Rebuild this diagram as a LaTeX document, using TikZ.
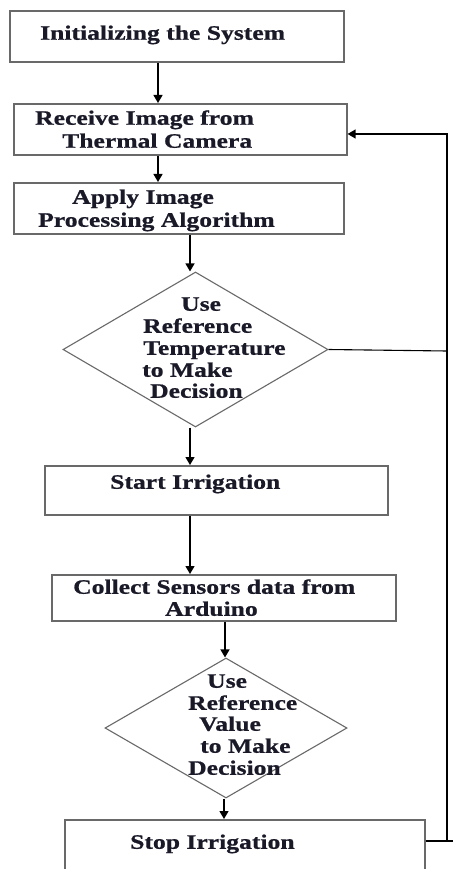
\documentclass[tikz,border=0pt]{standalone}
\usepackage{fontspec}
\setmainfont{Liberation Serif}[FakeStretch=1.25,BoldFeatures={FakeBold=0.8}]
\usetikzlibrary{shapes.geometric,arrows.meta}
\definecolor{boxgray}{RGB}{105,105,105}
\definecolor{txt}{RGB}{25,25,40}
\begin{document}
\begin{tikzpicture}[x=1pt,y=-1pt,
  procbox/.style={draw=boxgray,line width=1.6pt,rectangle,inner sep=0pt,anchor=north west},
  decbox/.style={draw=boxgray,line width=1.1pt,diamond,inner sep=0pt},
  lbl/.style={anchor=west,inner sep=0pt,text=txt,font=\bfseries\fontsize{20.5}{22}\selectfont,text height=13.5pt,text depth=0pt},
  arr/.style={draw=black,line width=1.3pt,-{Triangle[width=9pt,length=8pt]}},
  ln/.style={draw=black,line width=1.1pt}]
\useasboundingbox (0,0) rectangle (453,869);
\clip (0,0) rectangle (453,869);
\fill[white] (0,0) rectangle (453,869);

% shapes
\node[procbox,minimum width=334pt,minimum height=51pt] (b1) at (9,10) {};
\node[procbox,minimum width=333pt,minimum height=51pt] (b2) at (13,103) {};
\node[procbox,minimum width=330pt,minimum height=51pt] (b3) at (13,182) {};
\node[decbox,minimum width=265pt,minimum height=155pt] (d1) at (195.5,349.5) {};
\node[procbox,minimum width=343pt,minimum height=49pt] (b4) at (44,465) {};
\node[procbox,minimum width=344pt,minimum height=46pt] (b5) at (51,574) {};
\node[decbox,minimum width=242pt,minimum height=140pt] (d2) at (226,728) {};
\node[procbox,minimum width=360pt,minimum height=90pt] (b6) at (64,819) {};

% texts
\node[lbl] (t1) at (40,33) {Initializing the System};
\node[lbl] (t2a) at (35,118) {Receive Image from};
\node[lbl] (t2b) at (62,141) {Thermal Camera};
\node[lbl] (t3a) at (72,197) {Apply Image};
\node[lbl] (t3b) at (38,220) {Processing Algorithm};
\node[lbl] (t4a) at (181,304) {Use};
\node[lbl] (t4b) at (143,326) {Reference};
\node[lbl] (t4c) at (143,348) {Temperature};
\node[lbl] (t4d) at (142,370) {to Make};
\node[lbl] (t4e) at (150,391) {Decision};
\node[lbl] (t5) at (110,482) {Start Irrigation};
\node[lbl] (t6a) at (73,587) {Collect Sensors data from};
\node[lbl] (t6b) at (165,609) {Arduino};
\node[lbl] (t7a) at (207,681) {Use};
\node[lbl] (t7b) at (188,703) {Reference};
\node[lbl] (t7c) at (199,724) {Value};
\node[lbl] (t7d) at (200,746) {to Make};
\node[lbl] (t7e) at (188,768) {Decision};
\node[lbl] (t8) at (130,842) {Stop Irrigation};

% connectors
\draw[arr] (b1.south -| 158,0) -- (b2.north -| 158,0);
\draw[arr] (b2.south -| 158,0) -- (b3.north -| 158,0);
\draw[arr] (b3.south -| 190,0) -- (d1.north -| 190,0);
\draw[arr] (d1.south -| 190,0) -- (b4.north -| 190,0);
\draw[arr] (b4.south -| 190,0) -- (b5.north -| 190,0);
\draw[arr] (b5.south -| 225,0) -- (d2.north -| 225,0);
\draw[arr] (d2.south -| 224,0) -- (b6.north -| 224,0);

% feedback
\coordinate (fa) at (447,351);
\coordinate (ft) at (447,134);
\coordinate (fb) at (447,841);
\draw[ln] (d1.east) -- (fa);
\draw[arr] (fa) -- (ft) -- (b2.east |- ft);
\draw[ln] (fa) -- (fb);
\draw[ln] (b6.north east |- fb) -- (fb) -- (453,841);
\end{tikzpicture}
\end{document}
